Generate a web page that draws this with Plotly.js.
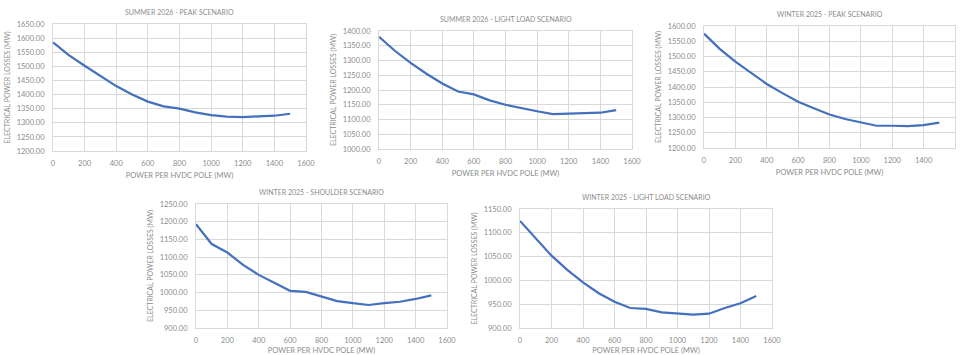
<!DOCTYPE html>
<html><head><meta charset="utf-8">
<script src="https://cdn.plot.ly/plotly-3.0.1.min.js"></script>
<style>html,body{margin:0;padding:0;background:#fff}#c{width:962px;height:355px}</style>
</head><body><div id="c"></div>
<script>
const power = [0,100,200,300,400,500,600,700,800,900,1000,1100,1200,1300,1400,1500];
const titles = ["SUMMER 2026 - PEAK SCENARIO","SUMMER 2026 - LIGHT LOAD SCENARIO","WINTER 2025 - PEAK SCENARIO","WINTER 2025 - SHOULDER SCENARIO","WINTER 2025 - LIGHT LOAD SCENARIO"];
const summerPeak = [1585,1540,1502,1465,1430,1400,1375,1358,1350,1337,1327,1322,1320,1323,1325,1332];
const summerLight = [1380,1333,1292,1255,1222,1195,1185,1165,1150,1138,1128,1118,1120,1120,1123,1132];
const winterPeak = [1575,1525,1483,1445,1410,1380,1352,1330,1310,1295,1283,1273,1273,1272,1275,1283];
const winterShoulder = [1193,1137,1113,1078,1050,1027,1005,1002,988,976,970,965,970,974,982,992];
const winterLight = [1125,1088,1052,1022,996,973,955,942,940,933,930,928,930,942,952,967];
const yRanges = [[1200,1650],[1000,1400],[1200,1600],[900,1250],[900,1150]];
const xTitle = "POWER PER HVDC POLE (MW)";
const yTitle = "ELECTRICAL POWER LOSSES (MW)";

const series = [summerPeak, summerLight, winterPeak, winterShoulder, winterLight];
const W = 962, H = 355;
const boxes = [[53,306,24,151],[379,632,31,149],[704,955,26,148],[196,447,204,328],[520,772,209,328]];
const grey = "#8c8c8c", grid = "#d9d9d9", blue = "#4470bd";
const layout = {width:W,height:H,margin:{l:0,r:0,t:0,b:0},paper_bgcolor:"#fff",plot_bgcolor:"#fff",showlegend:false,
  font:{family:"Lato, Open Sans, sans-serif",color:grey,size:7.5},annotations:[]};
const data = [];
series.forEach((s,i)=>{
  const n = i===0?"":String(i+1);
  const b = boxes[i];
  data.push({x:power,y:s,type:"scatter",mode:"lines",line:{color:blue,width:2.2},xaxis:"x"+n,yaxis:"y"+n,hoverinfo:"skip"});
  layout["xaxis"+n] = {domain:[b[0]/W,b[1]/W],range:[0,1600],dtick:200,tick0:0,anchor:"y"+n,
    showgrid:true,gridcolor:grid,gridwidth:1,zeroline:false,showline:true,linecolor:grid,mirror:true,ticks:"",
    ticklabelstandoff:5,tickfont:{size:7.5,color:grey},title:{text:xTitle,font:{size:7.5,color:grey},standoff:5},automargin:false};
  layout["yaxis"+n] = {domain:[1-b[3]/H,1-b[2]/H],range:yRanges[i],dtick:50,anchor:"x"+n,tickformat:".2f",
    showgrid:true,gridcolor:grid,gridwidth:1,zeroline:false,showline:true,linecolor:grid,mirror:true,ticks:"",
    ticklabelstandoff:6,tickfont:{size:7.5,color:grey},title:{text:yTitle,font:{size:7,color:grey},standoff:5},automargin:false};
  layout.annotations.push({text:titles[i],xref:"paper",yref:"paper",x:(b[0]+b[1])/2/W,y:1-(b[2]-12)/H,
    showarrow:false,font:{size:7,color:grey},xanchor:"center",yanchor:"middle"});
});
Plotly.newPlot("c",data,layout,{staticPlot:true,displayModeBar:false});
</script></body></html>
